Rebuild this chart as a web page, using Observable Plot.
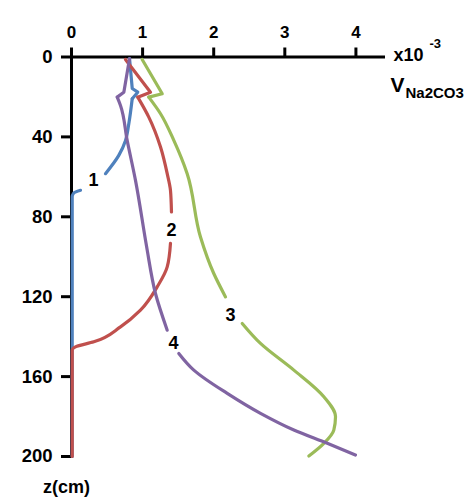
<!DOCTYPE html>
<html>
<head>
<meta charset="utf-8">
<script src="https://cdn.jsdelivr.net/npm/d3@7"></script>
<script src="https://cdn.jsdelivr.net/npm/@observablehq/plot@0.6"></script>
<style>
  body { margin: 0; background: #fff; }
  #chart { width: 472px; height: 500px; }
</style>
</head>
<body>
<div id="chart"></div>
<script>
// Values in units of 1e-3 (x) and depth z in cm (y). null = gap for a curve label.
const v1 = [0.816, 0.854, 0.932, 0.854, 0.806, 0.76, 0.665, 0.478, null, 0.127, 0.028, 0.01, 0.01];
const z1 = [0.75, 15.75, 17.6, 20.9, 33.4, 41.75, 49.25, 58.4, null, 66.75, 68.25, 70, 200];

const v2 = [0.759, 1.111, 0.932, 1.087, 1.252, 1.346, 1.392, 1.406, null, 1.392, 1.346, 1.205, 0.970, 0.689, 0.314, 0.056, 0.01, 0.01];
const z2 = [1.25, 17.6, 20.1, 30.1, 45.1, 58.4, 66.75, 77.6, null, 93.25, 105.1, 115.1, 126.75, 135.1, 142.6, 145.1, 146.75, 200];

const v3 = [0.994, 1.276, 1.087, 1.252, 1.439, 1.627, 1.814, 2.001, 2.166, null, 2.401, 2.658, 3.127, 3.549, 3.713, 3.689, 3.549, 3.338];
const z3 = [1.25, 18.4, 20.1, 28.4, 41.75, 58.4, 90.1, 108.4, 120.1, null, 133.4, 143.4, 156.75, 170.1, 180.1, 186.75, 193.4, 199.75];

const v4 = [0.816, 0.736, 0.643, 0.689, 0.783, 0.9, 1.041, 1.065, 1.181, 1.346, null, 1.509, 1.72, 2.19, 2.658, 3.127, 3.597, 3.994];
const z4 = [0.9, 17.6, 20.1, 24.25, 41.75, 61.75, 91.75, 96.75, 118.4, 136.75, null, 148.4, 156.75, 168.4, 178.4, 186.75, 193.4, 199.25];

// index of the last point of each curve's zigzag near the surface
const kinkEnd = [3, 2, 2, 2];

const curveNames = ["1", "2", "3", "4"];
const curveColors = ["#4f81bd", "#c0504d", "#9bbb59", "#8064a2"];
const labelV = [0.31, 1.406, 2.236, 1.435];
const labelZ = [61.75, 86.75, 129.25, 143.25];

const xTicks = [0, 1, 2, 3, 4];
const yTicks = [0, 40, 80, 120, 160, 200];

const series = [[v1, z1], [v2, z2], [v3, z3], [v4, z4]];
const rows = [];
series.forEach(([vs, zs], i) => {
  vs.forEach((v, j) => rows.push({
    name: curveNames[i],
    j,
    k: kinkEnd[i],
    v: v == null ? NaN : v,
    z: zs[j] == null ? NaN : zs[j]
  }));
});
const topRows = rows.filter(d => d.j <= d.k);
const lowRows = rows.filter(d => d.j >= d.k);
const labels = curveNames.map((n, i) => ({name: n, v: labelV[i], z: labelZ[i]}));

const font = "Liberation Sans, Arial, sans-serif";

const chart = Plot.plot({
  width: 472,
  height: 500,
  marginTop: 56.5,
  marginBottom: 44,
  marginLeft: 71,
  marginRight: 87,
  style: {fontFamily: font, background: "white"},
  x: {domain: [0, 4.416]},
  y: {domain: [0, 200], reverse: true},
  color: {domain: curveNames, range: curveColors},
  marks: [
    Plot.axisX({anchor: "top", ticks: xTicks, tickSize: 10, tickPadding: 9, strokeWidth: 3,
      fontSize: 17, fontWeight: "bold", fill: "black", label: null, tickFormat: d => String(d)}),
    Plot.axisY({anchor: "left", ticks: yTicks, tickSize: 10, tickPadding: 9, strokeWidth: 3,
      fontSize: 18.5, fontWeight: "bold", fill: "black", label: null, tickFormat: d => String(d)}),
    Plot.ruleY([0], {stroke: "black", strokeWidth: 3}),
    Plot.ruleX([0], {stroke: "black", strokeWidth: 3}),
    Plot.line(topRows, {x: "v", y: "z", z: "name", stroke: "name", strokeWidth: 3.2, curve: "linear", strokeLinejoin: "round", strokeLinecap: "round"}),
    Plot.line(lowRows, {x: "v", y: "z", z: "name", stroke: "name", strokeWidth: 3.2, curve: "monotone-y", strokeLinejoin: "round"}),
    Plot.text(labels, {x: "v", y: "z", text: "name", fontSize: 18, fontWeight: "bold", fill: "black"}),
    Plot.text(["x10"], {x: () => 4.416, y: () => 0, text: d => d, dx: 8, dy: -2, textAnchor: "start", fontSize: 18, fontWeight: "bold", fill: "black"}),
    Plot.text(["-3"], {x: () => 4.416, y: () => 0, text: d => d, dx: 44, dy: -13, textAnchor: "start", fontSize: 13, fontWeight: "bold", fill: "black"}),
    Plot.text(["V"], {x: () => 4.416, y: () => 0, text: d => d, dx: 5, dy: 28, textAnchor: "start", fontSize: 21, fontWeight: "bold", fill: "black"}),
    Plot.text(["Na2CO3"], {x: () => 4.416, y: () => 0, text: d => d, dx: 20, dy: 36, textAnchor: "start", fontSize: 15, fontWeight: "bold", fill: "black"}),
    Plot.text(["z(cm)"], {x: () => 0, y: () => 200, text: d => d, dx: -5, dy: 31, textAnchor: "middle", fontSize: 18, fontWeight: "bold", fill: "black"})
  ]
});
document.getElementById("chart").appendChild(chart);
</script>
</body>
</html>
